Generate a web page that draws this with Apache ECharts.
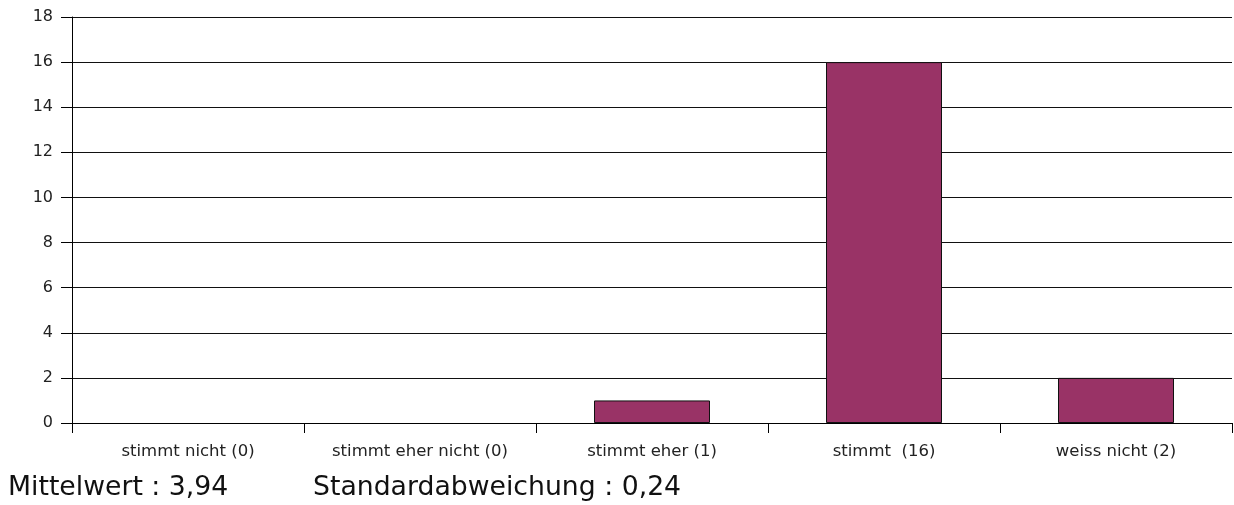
<!DOCTYPE html>
<html><head><meta charset="utf-8">
<script src="https://cdn.jsdelivr.net/npm/echarts@6/dist/echarts.min.js"></script>
<style>html,body{margin:0;padding:0;background:#fff}#c{width:1234px;height:505px}</style>
</head><body><div id="c"></div>
<script>
const categories = ['stimmt nicht (0)', 'stimmt eher nicht (0)', 'stimmt eher (1)', 'stimmt  (16)', 'weiss nicht (2)'];
const values = [0, 0, 1, 16, 2];
const yTicks = [0, 2, 4, 6, 8, 10, 12, 14, 16, 18];
const footerMean = 'Mittelwert : 3,94';
const footerStd = 'Standardabweichung : 0,24';

const chart = echarts.init(document.getElementById('c'), null, {renderer: 'canvas'});
chart.setOption({
  animation: false,
  backgroundColor: '#fff',
  grid: {left: 72, right: 2, top: 17, bottom: 82, containLabel: false},
  xAxis: {
    type: 'category', data: categories,
    axisLine: {lineStyle: {color: '#000', width: 1}},
    axisTick: {show: true, length: 10, alignWithLabel: false, lineStyle: {color: '#000'}},
    axisLabel: {color: '#222', fontFamily: 'DejaVu Sans', fontSize: 16.5, margin: 20, interval: 0},
    splitLine: {show: false}
  },
  yAxis: {
    type: 'value', min: yTicks[0], max: yTicks[yTicks.length - 1], interval: 2,
    axisLine: {show: true, lineStyle: {color: '#000', width: 1}},
    axisTick: {show: true, length: 11, lineStyle: {color: '#000'}},
    axisLabel: {color: '#222', fontFamily: 'DejaVu Sans', fontSize: 16, margin: 19},
    splitLine: {show: true, lineStyle: {color: '#111', width: 1}}
  },
  series: [{
    type: 'bar', barWidth: '50%',
    data: values.map(v => ({value: v, itemStyle: {borderWidth: v === 0 ? 0 : 1}})),
    itemStyle: {color: '#993366', borderColor: '#111', borderWidth: 1}
  }],
  graphic: [
    {type: 'text', left: 8, top: 475, style: {text: footerMean, font: '26.7px "DejaVu Sans"', fill: '#111'}},
    {type: 'text', left: 313, top: 475, style: {text: footerStd, font: '26.7px "DejaVu Sans"', fill: '#111'}}
  ]
});
</script></body></html>
